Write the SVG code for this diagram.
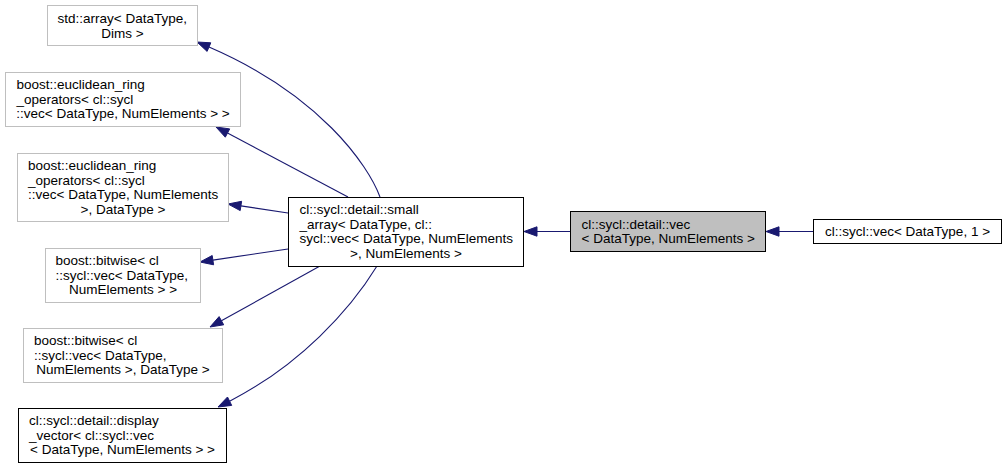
<svg xmlns="http://www.w3.org/2000/svg" width="1008" height="469" viewBox="0 0 1008 469">
<style>
text{font-family:"Liberation Sans",Arial,Helvetica,sans-serif;font-size:13.5px;fill:#000}
.g rect{fill:#fff;stroke:#bfbfbf;stroke-width:1}
.b rect{fill:#fff;stroke:#000;stroke-width:1}
.h rect{fill:#bfbfbf;stroke:#000;stroke-width:1}
.m{text-anchor:middle}
#edges path{fill:none;stroke:#191970;stroke-width:1.1}
#edges polygon{fill:#191970;stroke:#191970;stroke-width:1}
</style>
<rect width="1008" height="469" fill="#fff"/>
<g id="edges">
<path d="M380,197 C368,165 320,95 209,47"/>
<polygon points="197,42 210.8,42.8 207.1,51.4"/>
<path d="M348,197 L227.5,133.1"/>
<polygon points="216,127 229.7,128.9 225.3,137.2"/>
<path d="M288,213 L240.9,205.9"/>
<polygon points="228,204 241.6,201.3 240.2,210.6"/>
<path d="M288,249 L212.9,260.1"/>
<polygon points="200,262 212.2,255.5 213.6,264.8"/>
<path d="M320,266 L221.4,320.7"/>
<polygon points="210,327 219.1,316.6 223.7,324.8"/>
<path d="M377,266 C350,310 300,365 229.6,401.2"/>
<polygon points="218,407 227.5,397 231.7,405.4"/>
<path d="M570,231.5 L537,231.5"/>
<polygon points="524,231.5 537,226.8 537,236.2"/>
<path d="M813,231.5 L779,231.5"/>
<polygon points="766,231.5 779,226.8 779,236.2"/>
</g>
<g id="nodeA" class="g">
<rect x="47.5" y="5.5" width="150" height="40"/>
<text x="57.5" y="23">std::array&lt; DataType,</text>
<text class="m" x="122.5" y="37.5">Dims &gt;</text>
</g>
<g id="nodeB" class="g">
<rect x="5.5" y="72.5" width="235" height="54"/>
<text x="16.5" y="89">boost::euclidean_ring</text>
<text x="16.5" y="103.5">_operators&lt; cl::sycl</text>
<text class="m" x="123" y="118">::vec&lt; DataType, NumElements &gt; &gt;</text>
</g>
<g id="nodeC" class="g">
<rect x="17.5" y="153.5" width="211" height="68"/>
<text x="28" y="170">boost::euclidean_ring</text>
<text x="28" y="184.5">_operators&lt; cl::sycl</text>
<text x="28" y="199">::vec&lt; DataType, NumElements</text>
<text class="m" x="123" y="213.5">&gt;, DataType &gt;</text>
</g>
<g id="nodeD" class="g">
<rect x="45.5" y="248.5" width="155" height="54"/>
<text x="55.5" y="265">boost::bitwise&lt; cl</text>
<text x="55.5" y="279.5">::sycl::vec&lt; DataType,</text>
<text class="m" x="123" y="294">NumElements &gt; &gt;</text>
</g>
<g id="nodeE" class="g">
<rect x="23.5" y="328.5" width="199" height="54"/>
<text x="34" y="345">boost::bitwise&lt; cl</text>
<text x="34" y="359.5">::sycl::vec&lt; DataType,</text>
<text class="m" x="123" y="374">NumElements &gt;, DataType &gt;</text>
</g>
<g id="nodeF" class="b">
<rect x="18.5" y="408.5" width="208" height="54"/>
<text x="29" y="425">cl::sycl::detail::display</text>
<text x="29" y="439.5">_vector&lt; cl::sycl::vec</text>
<text class="m" x="122.5" y="454">&lt; DataType, NumElements &gt; &gt;</text>
</g>
<g id="nodeG" class="b">
<rect x="288.5" y="197.5" width="235" height="69"/>
<text x="299.5" y="214">cl::sycl::detail::small</text>
<text x="299.5" y="228.5">_array&lt; DataType, cl::</text>
<text x="299.5" y="243">sycl::vec&lt; DataType, NumElements</text>
<text class="m" x="406" y="257.5">&gt;, NumElements &gt;</text>
</g>
<g id="nodeH" class="h">
<rect x="570.5" y="211.5" width="195" height="40"/>
<text x="581.5" y="228.5">cl::sycl::detail::vec</text>
<text x="581.5" y="243">&lt; DataType, NumElements &gt;</text>
</g>
<g id="nodeI" class="b">
<rect x="813.5" y="219.5" width="188" height="24"/>
<text class="m" x="907.5" y="236">cl::sycl::vec&lt; DataType, 1 &gt;</text>
</g>
</svg>
